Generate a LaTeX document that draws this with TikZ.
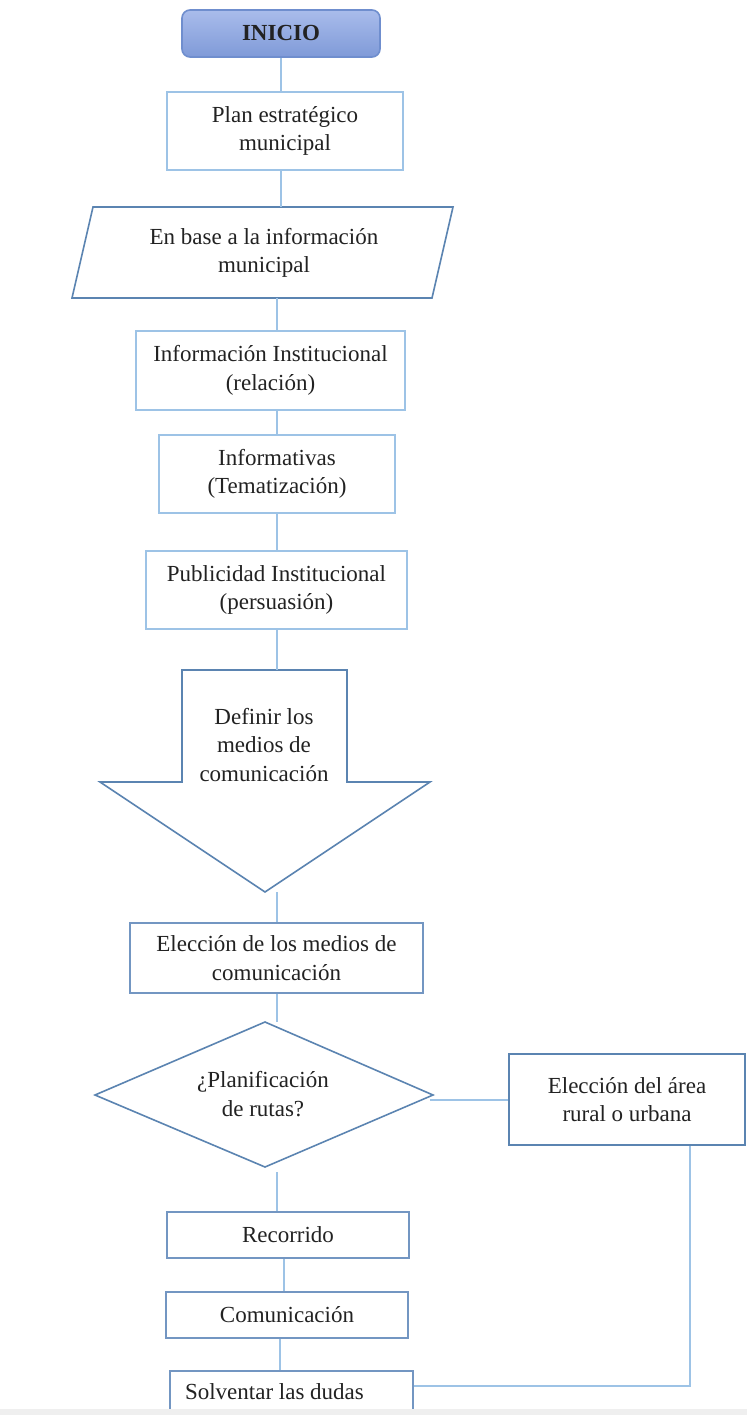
\documentclass[tikz,border=0pt]{standalone}
\usepackage{fontspec}
\setmainfont{Liberation Serif}
\usetikzlibrary{positioning}
\definecolor{linkblue}{HTML}{9DC3E6}
\definecolor{lightedge}{HTML}{9DC3E6}
\definecolor{midedge}{HTML}{7396C2}
\definecolor{darkedge}{HTML}{5B84B1}
\definecolor{inktext}{HTML}{222222}
\definecolor{startedge}{HTML}{6F8ECE}
\definecolor{starttop}{HTML}{A9BCEB}
\definecolor{startbot}{HTML}{7F9AD8}
\definecolor{pagegrey}{HTML}{EFEFEF}
\tikzset{
  txt/.style={text=inktext, font=\rmfamily\fontsize{23}{28.5}\selectfont, align=center, inner sep=0pt},
  procbox/.style={txt, draw=lightedge, line width=2pt, fill=white, rectangle},
  procmid/.style={procbox, draw=midedge},
  shapeline/.style={draw=darkedge, line width=1.6pt, fill=white, line join=miter},
  conn/.style={draw=linkblue, line width=2pt},
}
\begin{document}
\begin{tikzpicture}[x=1pt,y=-1pt]
\useasboundingbox (0,0) rectangle (747,1415);
\fill[white] (0,0) rectangle (747,1415);

% start terminal
\node[txt, font=\rmfamily\fontsize{23}{28.5}\selectfont\bfseries, draw=startedge, line width=1.6pt,
      rounded corners=8pt, top color=starttop, bottom color=startbot,
      minimum width=198pt, minimum height=47pt] (ini) at (281,33.5) {INICIO};

\node[procbox, minimum width=236pt, minimum height=78pt] (plan) at (285,131)
  {Plan estratégico\\municipal};

% input/output parallelogram
\coordinate (pTL) at (93,207);
\coordinate (pTR) at (453,207);
\coordinate (pBR) at (432,298);
\coordinate (pBL) at (72,298);
\path[shapeline] (pTL) -- (pTR) -- (pBR) -- (pBL) -- cycle;
\node[txt] (base) at (264,253) {En base a la información\\municipal};

\node[procbox, minimum width=269pt, minimum height=79pt] (inst) at (270.5,370.5)
  {Información Institucional\\(relación)};
\node[procbox, minimum width=236pt, minimum height=78pt] (infv) at (277,474)
  {Informativas\\(Tematización)};
\node[procbox, minimum width=261pt, minimum height=78pt] (pub) at (276.5,590)
  {Publicidad Institucional\\(persuasión)};

% block arrow
\coordinate (aTL) at (182,670);
\coordinate (aTR) at (347,670);
\coordinate (aTip) at (265,892);
\path[shapeline] (aTL) -- (aTR) -- (347,782) -- (430,782) -- (aTip)
  -- (100,782) -- (182,782) -- cycle;
\node[txt] (defn) at (264,745) {Definir los\\medios de\\comunicación};

\node[procmid, minimum width=293pt, minimum height=70pt] (elec) at (276.5,958)
  {Elección de los medios de\\comunicación};

% decision
\coordinate (dT) at (265,1022);
\coordinate (dR) at (433,1095);
\coordinate (dB) at (265,1167);
\coordinate (dL) at (95,1095);
\path[shapeline] (dT) -- (dR) -- (dB) -- (dL) -- cycle;
\node[txt] (ask) at (263,1094) {¿Planificación\\de rutas?};

\node[procmid, draw=darkedge, line width=1.6pt, minimum width=236pt, minimum height=91pt]
  (area) at (627,1099.5) {Elección del área\\rural o urbana};

\node[procmid, minimum width=242pt, minimum height=46pt] (rec) at (288,1235) {Recorrido};
\node[procmid, minimum width=242pt, minimum height=46pt] (com) at (287,1315) {Comunicación};
\node[procmid, minimum width=243pt, minimum height=42pt] (sol) at (291.5,1392)
  {\makebox[213pt][l]{Solventar las dudas}};

% spine of connectors
\coordinate (sp) at (277,0);
\draw[conn] (ini.south) -- (ini.south |- plan.north);
\draw[conn] (plan.south -| ini.south) -- (ini.south |- pTL);
\draw[conn] (pBL -| sp) -- (inst.north -| sp);
\draw[conn] (inst.south -| sp) -- (infv.north -| sp);
\draw[conn] (infv.south -| sp) -- (pub.north -| sp);
\draw[conn] (pub.south -| sp) -- (aTL -| sp);
\draw[conn] (aTip -| sp) -- (elec.north -| sp);
\draw[conn] (elec.south -| sp) -- (dT -| sp);
\draw[conn] ([yshift=-5pt]dB -| sp) -- (rec.north -| sp);
\draw[conn] ([xshift=-4pt]rec.south) -- ([xshift=-4pt]rec.south |- com.north);
\draw[conn] ([xshift=-7pt]com.south) -- ([xshift=-7pt]com.south |- sol.north);
\draw[conn] ([xshift=-3pt]dR |- area.west) -- (area.west);
\draw[conn] ([xshift=63pt]area.south) |- ([yshift=6pt]sol.east);

% page edge band
\fill[pagegrey] (0,1409) rectangle (747,1415);
\end{tikzpicture}
\end{document}
